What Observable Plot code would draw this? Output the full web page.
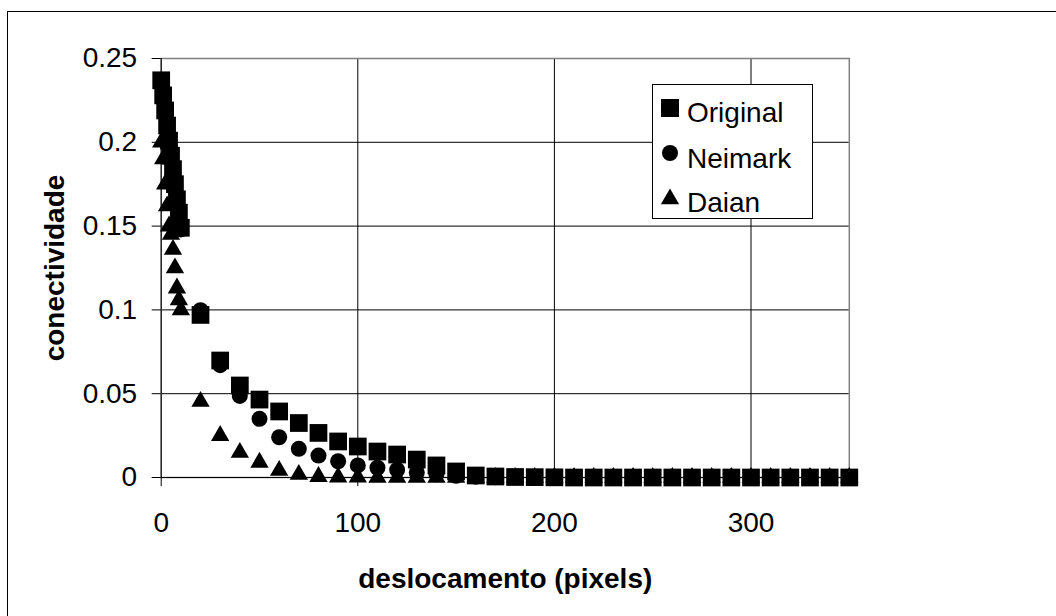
<!DOCTYPE html>
<html>
<head>
<meta charset="utf-8">
<script src="https://cdn.jsdelivr.net/npm/d3@7"></script>
<script src="https://cdn.jsdelivr.net/npm/@observablehq/plot@0.6"></script>
<style>
  html, body { margin: 0; padding: 0; background: #fff; overflow: hidden; }
  #wrap { position: relative; width: 1056px; height: 616px; font-family: "Liberation Sans", Arial, sans-serif; }
  #outer { position: absolute; left: 7px; top: 11px; width: 1100px; height: 700px; border: 1px solid #000; box-sizing: border-box; }
  #chart { position: absolute; left: 0; top: 0; }
  #legend { position: absolute; left: 0; top: 0; }
</style>
</head>
<body>
<div id="wrap">
  <div id="outer"></div>
  <div id="chart"></div>
  <svg id="legend" width="1056" height="616"></svg>
</div>
<script>
// ---- data ----
const xValues = [0,1,2,3,4,5,6,7,8,9,10,20,30,40,50,60,70,80,90,100,110,120,130,140,150,160,170,180,190,200,210,220,230,240,250,260,270,280,290,300,310,320,330,340,350];
const originalValues = [0.237,0.228,0.219,0.210,0.201,0.192,0.184,0.175,0.166,0.158,0.149,0.097,0.0698,0.0549,0.0465,0.0394,0.0325,0.0266,0.0215,0.0185,0.0155,0.0137,0.0107,0.0072,0.0036,0.0012,0.0006,0.0003,0.0002,0.0001,0,0,0,0,0,0,0,0,0,0,0,0,0,0,0];
const neimarkValues = [0.236,0.227,0.218,0.209,0.200,0.191,0.183,0.174,0.165,0.157,0.148,0.0998,0.067,0.0487,0.035,0.024,0.0171,0.0131,0.0097,0.0072,0.0058,0.0046,0.003,0.002,0.001,0.0005,0.0002,0.0001,0,0,0,0,0,0,0,0,0,0,0,0,0,0,0,0,0];
const daianValues = [0.200,0.190,0.175,0.162,0.150,0.145,0.136,0.125,0.113,0.106,0.100,0.0453,0.025,0.0149,0.009,0.0042,0.0018,0.0005,0.0002,0.0001,0,0,0,0,0,0,0,0,0,0,0,0,0,0,0,0,0,0,0,0,0,0,0,0,0];
const seriesNames = ["Original", "Neimark", "Daian"];
const xTicks = [0, 100, 200, 300];
const yTicks = [0, 0.05, 0.1, 0.15, 0.2, 0.25];
const yTickLabels = ["0", "0.05", "0.1", "0.15", "0.2", "0.25"];
const xTitle = "deslocamento (pixels)";
const yTitle = "conectividade";

const rows = (vals) => xValues.map((x, i) => ({x, y: vals[i]}));
const font = '"Liberation Sans", Arial, sans-serif';

const chart = Plot.plot({
  width: 1056,
  height: 616,
  marginLeft: 160.7,
  marginRight: 207.2,
  marginTop: 58,
  marginBottom: 139,
  style: {fontFamily: font, fontSize: "28px", background: "transparent", color: "#000"},
  x: {domain: [0, 350]},
  y: {domain: [0, 0.25]},
  marks: [
    Plot.gridX(xTicks.filter(d => d > 0), {stroke: "#000", strokeOpacity: 1, strokeWidth: 1}),
    Plot.gridY(yTicks.filter(d => d > 0), {stroke: "#000", strokeOpacity: 1, strokeWidth: 1}),
    Plot.frame({stroke: "#808080", strokeWidth: 1.5}),
    Plot.axisX(xTicks, {tickSize: 9, tickPadding: 26, fontSize: 28, label: null, stroke: "#000"}),
    Plot.axisY(yTicks, {tickSize: 9, tickPadding: 15, fontSize: 28, label: null, tickFormat: (d) => yTickLabels[yTicks.indexOf(d)]}),
    Plot.ruleX([0], {stroke: "#000"}),
    Plot.ruleY([0], {stroke: "#000"}),
    Plot.dot(rows(originalValues), {x: "x", y: "y", symbol: "square", r: 10, fill: "#000", stroke: "none"}),
    Plot.dot(rows(neimarkValues), {x: "x", y: "y", symbol: "circle", r: 8, fill: "#000", stroke: "none"}),
    Plot.dot(rows(daianValues), {x: "x", y: "y", symbol: "triangle", r: 6.8, fill: "#000", stroke: "none"}),
    Plot.text([yTitle], {frameAnchor: "left", rotate: -90, dx: -106, textAnchor: "middle", lineAnchor: "middle", fontWeight: "bold", fontSize: 28}),
    Plot.text([xTitle], {frameAnchor: "bottom", dy: 102, textAnchor: "middle", lineAnchor: "middle", fontWeight: "bold", fontSize: 28})
  ]
});
document.getElementById("chart").appendChild(chart);

// ---- legend (inside plot area) ----
const lg = d3.select("#legend");
lg.append("rect").attr("x", 652.5).attr("y", 84.5).attr("width", 160).attr("height", 134)
  .attr("fill", "#fff").attr("stroke", "#000").attr("stroke-width", 1);
const symbols = [d3.symbolSquare, d3.symbolCircle, d3.symbolTriangle];
const sizes = [18 * 18, Math.PI * 8 * 8, Math.PI * 6.8 * 6.8];
const rowY = [108, 153, 199];
const baseY = [122, 168, 212];
seriesNames.forEach((name, i) => {
  lg.append("path").attr("d", d3.symbol(symbols[i], sizes[i])())
    .attr("transform", `translate(670,${rowY[i]})`).attr("fill", "#000");
  lg.append("text").attr("x", 687).attr("y", baseY[i]).text(name)
    .attr("font-family", font).attr("font-size", 28).attr("fill", "#000");
});
</script>
</body>
</html>
